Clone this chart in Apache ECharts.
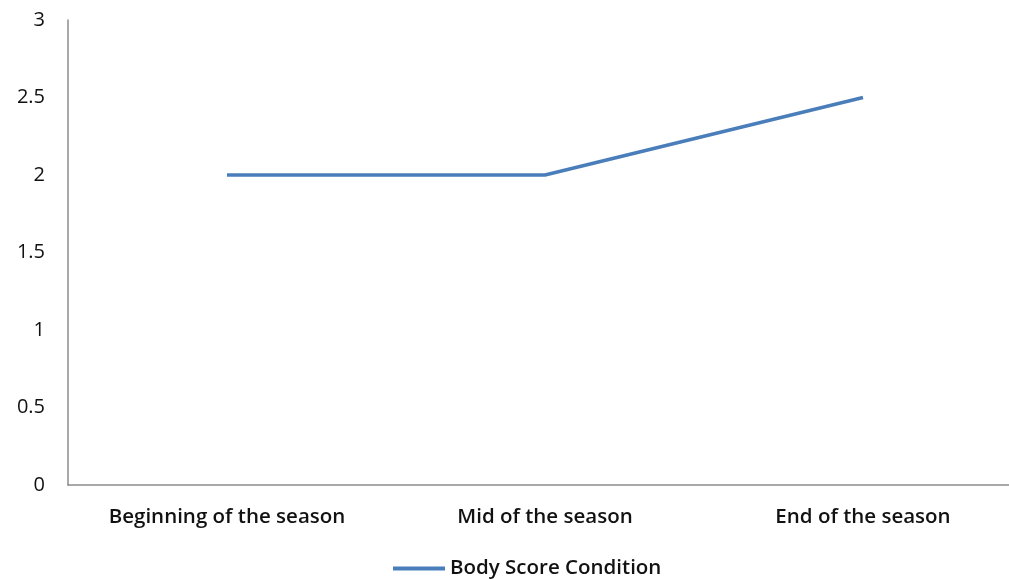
<!DOCTYPE html>
<html>
<head>
<meta charset="utf-8">
<script src="https://cdn.jsdelivr.net/npm/echarts@6/dist/echarts.min.js"></script>
<style>
html,body{margin:0;padding:0;background:#fff;}
#c{width:1009px;height:579px;}
</style>
</head>
<body>
<div id="c"></div>
<script>
const categories = ["Beginning of the season", "Mid of the season", "End of the season"];
const seriesName = "Body Score Condition";
const values = [2, 2, 2.5];
const yTicks = { min: 0, max: 3, interval: 0.5 };

const font = "Open Sans";
const chart = echarts.init(document.getElementById('c'), null, {renderer: 'canvas'});
chart.setOption({
  animation: false,
  backgroundColor: '#fff',
  grid: { left: 68, width: 954, top: 20, bottom: 94, containLabel: false, outerBoundsMode: 'none' },
  legend: {
    data: [seriesName],
    top: 553,
    left: 388,
    itemWidth: 52,
    itemHeight: 4,
    itemGap: 4,
    icon: 'rect',
    textStyle: { fontFamily: font, fontSize: 20.5, fontWeight: 600, color: '#111' }
  },
  xAxis: {
    type: 'category',
    data: categories,
    boundaryGap: true,
    axisLine: { lineStyle: { color: '#8c8c8c', width: 1.5 } },
    axisTick: { show: false },
    axisLabel: { fontFamily: font, fontSize: 20.5, fontWeight: 600, color: '#111', margin: 22 },
    splitLine: { show: false }
  },
  yAxis: {
    type: 'value',
    min: yTicks.min, max: yTicks.max, interval: yTicks.interval,
    axisLine: { show: true, lineStyle: { color: '#8c8c8c', width: 1.5 } },
    axisTick: { show: false },
    splitLine: { show: false },
    axisLabel: { fontFamily: font, fontSize: 20, color: '#111', margin: 23 }
  },
  series: [{
    name: seriesName,
    type: 'line',
    data: values,
    symbol: 'none',
    lineStyle: { color: '#4a7ebb', width: 3.5 },
    itemStyle: { color: '#4a7ebb' }
  }]
});
</script>
</body>
</html>
